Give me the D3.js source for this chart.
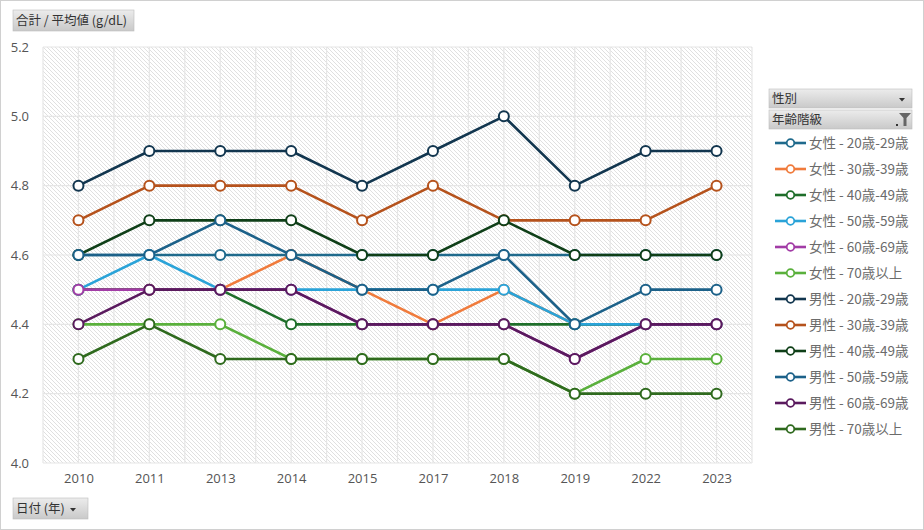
<!DOCTYPE html>
<html><head><meta charset="utf-8">
<script src="https://cdn.jsdelivr.net/npm/d3@7/dist/d3.min.js"></script>
<style>
html,body{margin:0;padding:0;background:#fff;}
svg{display:block;font-family:"Noto Sans CJK JP","Noto Sans",sans-serif;}
</style></head><body>
<svg id="c" width="924" height="530"></svg>
<script>
const years = ["2010","2011","2013","2014","2015","2017","2018","2019","2022","2023"];
const seriesNames = ["女性 - 20歳-29歳","女性 - 30歳-39歳","女性 - 40歳-49歳","女性 - 50歳-59歳","女性 - 60歳-69歳","女性 - 70歳以上",
  "男性 - 20歳-29歳","男性 - 30歳-39歳","男性 - 40歳-49歳","男性 - 50歳-59歳","男性 - 60歳-69歳","男性 - 70歳以上"];
const f20 = [4.6,4.6,4.6,4.6,4.6,4.6,4.6,4.6,4.6,4.6];
const f30 = [4.5,4.5,4.5,4.6,4.5,4.4,4.5,4.4,4.4,4.4];
const f40 = [4.5,4.5,4.5,4.4,4.4,4.4,4.4,4.4,4.4,4.4];
const f50 = [4.5,4.6,4.5,4.5,4.5,4.5,4.5,4.4,4.4,4.4];
const f60 = [4.5,4.5,4.5,4.5,4.4,4.4,4.4,4.3,4.4,4.4];
const f70 = [4.4,4.4,4.4,4.3,4.3,4.3,4.3,4.2,4.3,4.3];
const m20 = [4.8,4.9,4.9,4.9,4.8,4.9,5.0,4.8,4.9,4.9];
const m30 = [4.7,4.8,4.8,4.8,4.7,4.8,4.7,4.7,4.7,4.8];
const m40 = [4.6,4.7,4.7,4.7,4.6,4.6,4.7,4.6,4.6,4.6];
const m50 = [4.6,4.6,4.7,4.6,4.5,4.5,4.6,4.4,4.5,4.5];
const m60 = [4.4,4.5,4.5,4.5,4.4,4.4,4.4,4.3,4.4,4.4];
const m70 = [4.3,4.4,4.3,4.3,4.3,4.3,4.3,4.2,4.2,4.2];
const yTicks = [4.0,4.2,4.4,4.6,4.8,5.0,5.2];
const colors = ["#1f6a8c","#f07b3c","#1e6e2a","#2aa3d8","#a23ca6","#5ab03c",
  "#12364f","#b5521c","#0f3f18","#1c6189","#5a1a5e","#2f6a1e"];
const values = [f20,f30,f40,f50,f60,f70,m20,m30,m40,m50,m60,m70];

const svg = d3.select("#c");
const defs = svg.append("defs");
const pat = defs.append("pattern").attr("id","hatch").attr("patternUnits","userSpaceOnUse")
  .attr("width",4).attr("height",4);
pat.append("rect").attr("width",4).attr("height",4).attr("fill","#fff");
pat.append("path").attr("d","M-1,-1 L5,5 M3,-1 L5,1 M-1,3 L1,5").attr("stroke","#dcdcdc").attr("stroke-width",0.9);
const grad = defs.append("linearGradient").attr("id","btn").attr("x1",0).attr("y1",0).attr("x2",0).attr("y2",1);
grad.append("stop").attr("offset","0%").attr("stop-color","#ececec");
grad.append("stop").attr("offset","100%").attr("stop-color","#c9c9c9");

// outer border
svg.append("rect").attr("x",0.5).attr("y",0.5).attr("width",923).attr("height",529)
  .attr("fill","#fff").attr("stroke","#d0d0d0");

const L=43, R=752, T=47, B=463;
const x = d3.scaleBand().domain(years).range([L,R]).padding(0);
const bw = x.bandwidth();
const cx = d => x(d)+bw/2;
const y = d3.scaleLinear().domain([4.0,5.2]).range([B,T]);

svg.append("rect").attr("x",L).attr("y",T).attr("width",R-L).attr("height",B-T).attr("fill","url(#hatch)");

const grid = svg.append("g").attr("stroke","#e6e6e6").attr("stroke-width",1.2);
years.forEach(yr=>{
  grid.append("line").attr("x1",x(yr)).attr("x2",x(yr)).attr("y1",T).attr("y2",B);
  grid.append("line").attr("x1",cx(yr)).attr("x2",cx(yr)).attr("y1",T).attr("y2",B);
});
grid.append("line").attr("x1",R).attr("x2",R).attr("y1",T).attr("y2",B);
yTicks.forEach(t=>{
  grid.append("line").attr("x1",L).attr("x2",R).attr("y1",y(t)).attr("y2",y(t));
});

// axes labels
const yAxis = d3.axisLeft(y).tickValues(yTicks).tickFormat(d3.format(".1f")).tickSize(0).tickPadding(0);
const gy = svg.append("g").attr("transform","translate(29,0)").call(yAxis);
gy.select(".domain").remove();
gy.selectAll("text").attr("fill","#555").attr("font-size",13).attr("font-family","'Open Sans','Noto Sans',sans-serif");

const xAxis = d3.axisBottom(d3.scalePoint().domain(years).range([cx(years[0]),cx(years[years.length-1])])).tickSize(0).tickPadding(0);
const gx = svg.append("g").attr("transform","translate(0,474)").call(xAxis);
gx.select(".domain").remove();
gx.selectAll("text").attr("fill","#555").attr("font-size",13).attr("font-family","'Open Sans','Noto Sans',sans-serif");

// series
const line = d3.line().x((d,i)=>cx(years[i])).y(d=>y(d));
values.forEach((vals,si)=>{
  const g = svg.append("g");
  g.append("path").attr("d",line(vals)).attr("fill","none").attr("stroke",colors[si])
    .attr("stroke-width",2.6).attr("stroke-linejoin","round");
  g.selectAll("circle").data(vals).join("circle")
    .attr("cx",(d,i)=>cx(years[i])).attr("cy",d=>y(d)).attr("r",5)
    .attr("fill","#fff").attr("stroke",colors[si]).attr("stroke-width",2);
});

// buttons
function button(x0,y0,w,h,label,extra){
  const g = svg.append("g");
  g.append("rect").attr("x",x0).attr("y",y0).attr("width",w).attr("height",h).attr("fill","url(#btn)").attr("stroke","#bdbdbd").attr("stroke-width",0.6);
  g.append("text").attr("x",x0+3).attr("y",y0+h/2+4.5).attr("font-size",12.5).attr("fill","#333").text(label);
  return g;
}
button(13,10,121,21,"合計 / 平均値 (g/dL)");
const b2 = button(13,498,75,21,"日付 (年)");
b2.append("path").attr("d","M72,508 l6,0 l-3,3.5 z").attr("fill","#333").attr("transform","translate(-2,0)");
const b3 = button(769,89,143,19,"性別");
b3.append("path").attr("d","M899,98 l6,0 l-3,3.5 z").attr("fill","#333");
const b4 = button(769,110,143,19,"年齢階級");
b4.append("rect").attr("x",896).attr("y",124).attr("width",2).attr("height",2).attr("fill","#333");
b4.append("path").attr("d","M899,113 l12,0 l-4.5,5 l0,8 l-3,0 l0,-8 z").attr("fill","#666");

// legend
const leg = svg.append("g");
seriesNames.forEach((n,i)=>{
  const yy = 143 + i*26;
  leg.append("line").attr("x1",775).attr("x2",806).attr("y1",yy).attr("y2",yy).attr("stroke",colors[i]).attr("stroke-width",2.6);
  leg.append("circle").attr("cx",790.5).attr("cy",yy).attr("r",3.8).attr("fill","#fff").attr("stroke",colors[i]).attr("stroke-width",1.8);
  leg.append("text").attr("x",809).attr("y",yy+5).attr("font-size",13.5).attr("fill","#6b6b6b").text(n);
});
</script>
</body></html>
